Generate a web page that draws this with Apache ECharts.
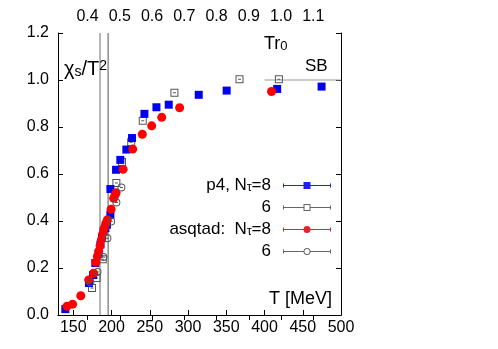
<!DOCTYPE html>
<html><head><meta charset="utf-8">
<script src="https://cdn.jsdelivr.net/npm/echarts@6/dist/echarts.min.js"></script>
<style>html,body{margin:0;padding:0;background:#fff}#c{width:498px;height:349px}</style>
</head><body><div id="c"></div>
<script>
// ---- data ----
const tTicks = [150, 200, 250, 300, 350, 400, 450, 500];
const tr0Ticks = [0.4, 0.5, 0.6, 0.7, 0.8, 0.9, 1.0, 1.1];
const yTicks = [0, 0.2, 0.4, 0.6, 0.8, 1.0, 1.2];
const r0OverHbarc = 0.002372; // Tr0 = T[MeV] * r0 / (hbar c)
const tcLines = [185, 195.5];
const sbLine = [[400, 1.0], [500, 1.0]];

const p4N8 = [[139.6,0.025],[170.5,0.136],[175.8,0.170],[178.8,0.221],[183,0.26],[185.5,0.30],[187.5,0.33],[189.5,0.355],[192,0.37],[194,0.384],[198.5,0.426],[198.5,0.536],[205.9,0.618],[211.5,0.66],[219.4,0.704],[226.8,0.753],[243,0.856],[258.7,0.884],[274.8,0.895],[314,0.937],[350.5,0.955],[416.6,0.962],[474.6,0.972]];
const p4N6 = [[174.5,0.115],[180.5,0.157],[188.6,0.237],[206.3,0.562],[213.7,0.651],[225.7,0.735],[240.8,0.827],[282.2,0.946],[367.3,1.003],[418.8,1.003]];
const asqN8 = [[141.8,0.037],[149.1,0.046],[159.8,0.082],[170.1,0.149],[176.6,0.178],[179.5,0.225],[181.5,0.25],[183.3,0.272],[185,0.295],[186.8,0.32],[188.5,0.345],[190.5,0.37],[192.5,0.39],[194.5,0.405],[199.4,0.45],[202.8,0.497],[204.5,0.51],[205.9,0.52],[215.1,0.62],[227.7,0.706],[240.2,0.769],[252.5,0.805],[265.6,0.841],[289,0.882],[409.2,0.951]];
const asqN6 = [[172.3,0.139],[181.6,0.183],[189.4,0.247],[194.6,0.327],[199.5,0.398],[206.3,0.479],[212.9,0.543]];

const names = ['p4, N\u03c4=8', '6', 'asqtad:  N\u03c4=8', '6 '];
const legendText = {
  'p4, N\u03c4=8': '{n|p4, N}{s|\u03c4}{e|=8}',
  '6': '{e|6}',
  'asqtad:  N\u03c4=8': '{n|asqtad:  N}{s|\u03c4}{e|=8}',
  '6 ': '{e|6}'
};

const FONT = 'Liberation Sans, Arial, Helvetica, sans-serif';
const iconSqFilled = 'path://M0,1.5H1V3.1H20.5V0H27.5V3.1H47V1.5H48V5.5H47V3.9H27.5V7H20.5V3.9H1V5.5H0Z';
const iconSqHollow = iconSqFilled + 'M21.5,1V6H26.5V1Z';
const segs = 'M0,1.5H1V3.1H20.6V3.9H1V5.5H0ZM27.4,3.1H47V1.5H48V5.5H47V3.9H27.4Z';
const iconCircFilled = 'path://' + segs + 'M27.5,3.5A3.5,3.5,0,1,1,20.5,3.5A3.5,3.5,0,1,1,27.5,3.5Z';
const iconCircHollow = iconCircFilled + 'M26.5,3.5A2.5,2.5,0,1,0,21.5,3.5A2.5,2.5,0,1,0,26.5,3.5Z';
// plot symbols: hollow outline with the tiny error bar dash inside
const symSqHollow = 'path://M0,0H8V8H0ZM1,1V7H7V1ZM2.5,3.5H5.5V4.5H2.5Z';
const symCircHollow = 'path://M8,4A4,4,0,1,1,0,4A4,4,0,1,1,8,4ZM7,4A3,3,0,1,0,1,4A3,3,0,1,0,7,4ZM2.5,3.5H5.5V4.5H2.5Z';

const chart = echarts.init(document.getElementById('c'), null, {renderer: 'canvas'});
const axisLine = {show: true, lineStyle: {color: '#000', width: 1}};
const lbl = {color: '#000', fontSize: 16, fontFamily: FONT};

chart.setOption({
  animation: false,
  backgroundColor: '#fff',
  grid: {left: 58, right: 157, top: 33, bottom: 34, containLabel: false},
  xAxis: [
    {type: 'value', position: 'bottom', min: 130, max: 500,
     axisLine: axisLine, splitLine: {show: false},
     axisTick: {inside: true, length: 5, customValues: tTicks, lineStyle: {color: '#000'}},
     axisLabel: Object.assign({customValues: tTicks, margin: 5}, lbl)},
    {type: 'value', position: 'top', min: 130 * r0OverHbarc, max: 500 * r0OverHbarc,
     axisLine: axisLine, splitLine: {show: false},
     axisTick: {inside: true, length: 5, customValues: tr0Ticks, lineStyle: {color: '#000'}},
     axisLabel: Object.assign({customValues: tr0Ticks, margin: 8, formatter: v => v.toFixed(1)}, lbl)}
  ],
  yAxis: [
    {type: 'value', position: 'left', min: 0, max: 1.2, interval: 0.2,
     axisLine: axisLine, splitLine: {show: false},
     axisTick: {inside: true, length: 5, lineStyle: {color: '#000'}},
     axisLabel: Object.assign({margin: 9, formatter: v => v.toFixed(1)}, lbl)},
    {type: 'value', position: 'right', min: 0, max: 1.2, interval: 0.2,
     axisLine: axisLine, splitLine: {show: false},
     axisTick: {inside: true, length: 5, lineStyle: {color: '#000'}},
     axisLabel: {show: false}}
  ],
  legend: {
    orient: 'vertical', align: 'right', right: 167, top: 177, padding: 0,
    itemWidth: 48, itemHeight: 7, itemGap: 5,
    data: [
      {name: names[0], icon: iconSqFilled, itemStyle: {color: '#2020f0', borderWidth: 0, opacity: 1}},
      {name: names[1], icon: iconSqHollow, itemStyle: {color: '#666', borderWidth: 0, opacity: 1}},
      {name: names[2], icon: iconCircFilled, itemStyle: {color: '#f02020', borderWidth: 0, opacity: 1}},
      {name: names[3], icon: iconCircHollow, itemStyle: {color: '#666', borderWidth: 0, opacity: 1}}
    ],
    formatter: n => legendText[n],
    textStyle: {
      color: '#000', fontFamily: FONT, fontSize: 17,
      rich: {
        n: {fontSize: 17, lineHeight: 17, fontFamily: FONT, color: '#000'},
        s: {fontSize: 12, lineHeight: 10, verticalAlign: 'bottom', fontFamily: FONT, color: '#000'},
        e: {fontSize: 17, lineHeight: 17, fontFamily: FONT, color: '#000', padding: [0, 7, 0, 0]}
      }
    }
  },
  series: [
    {type: 'line', name: 'Tc1', data: [[tcLines[0], 0], [tcLines[0], 1.2]], showSymbol: false, silent: true, z: 1,
     lineStyle: {color: '#b4b4b4', width: 2}},
    {type: 'line', name: 'Tc2', data: [[tcLines[1], 0], [tcLines[1], 1.2]], showSymbol: false, silent: true, z: 1,
     lineStyle: {color: '#555', width: 1}},
    {type: 'line', name: 'SB', data: sbLine, showSymbol: false, silent: true, z: 1,
     lineStyle: {color: '#999', width: 1}},
    {type: 'scatter', name: names[1], data: p4N6, symbol: symSqHollow, symbolSize: 8, z: 2,
     itemStyle: {color: '#555', opacity: 1}},
    {type: 'scatter', name: names[0], data: p4N8, symbol: 'rect', symbolSize: 8, z: 3,
     itemStyle: {color: '#0000f0', opacity: 1}},
    {type: 'scatter', name: names[2], data: asqN8, symbol: 'circle', symbolSize: 9, z: 4,
     itemStyle: {color: '#ff0000', opacity: 1}},
    {type: 'scatter', name: names[3], data: asqN6, symbol: symCircHollow, symbolSize: 8, z: 5,
     itemStyle: {color: '#555', opacity: 1}}
  ],
  graphic: [
    {type: 'text', z: 10, style: {x: 64, y: 69, text: '{a|\u03c7}{s|s}{a|/T}{p|2}', textVerticalAlign: 'middle', textAlign: 'left',
      rich: {
        a: {fontSize: 20, lineHeight: 20, fontFamily: FONT, fill: '#000'},
        s: {fontSize: 14, lineHeight: 8, verticalAlign: 'bottom', fontFamily: FONT, fill: '#000'},
        p: {fontSize: 14, lineHeight: 4, verticalAlign: 'top', fontFamily: FONT, fill: '#000'}
      }}},
    {type: 'text', z: 10, style: {x: 264, y: 44, text: '{a|Tr}{s|0}', textVerticalAlign: 'middle', textAlign: 'left',
      rich: {
        a: {fontSize: 18, lineHeight: 18, fontFamily: FONT, fill: '#000'},
        s: {fontSize: 13, lineHeight: 12, verticalAlign: 'bottom', fontFamily: FONT, fill: '#000'}
      }}},
    {type: 'text', z: 10, style: {x: 305, y: 66.5, text: 'SB', font: '17px ' + FONT, fill: '#000', textVerticalAlign: 'middle', textAlign: 'left'}},
    {type: 'text', z: 10, style: {x: 332, y: 299.5, text: 'T [MeV]', font: '18px ' + FONT, fill: '#000', textVerticalAlign: 'middle', textAlign: 'right'}}
  ]
});
</script></body></html>
